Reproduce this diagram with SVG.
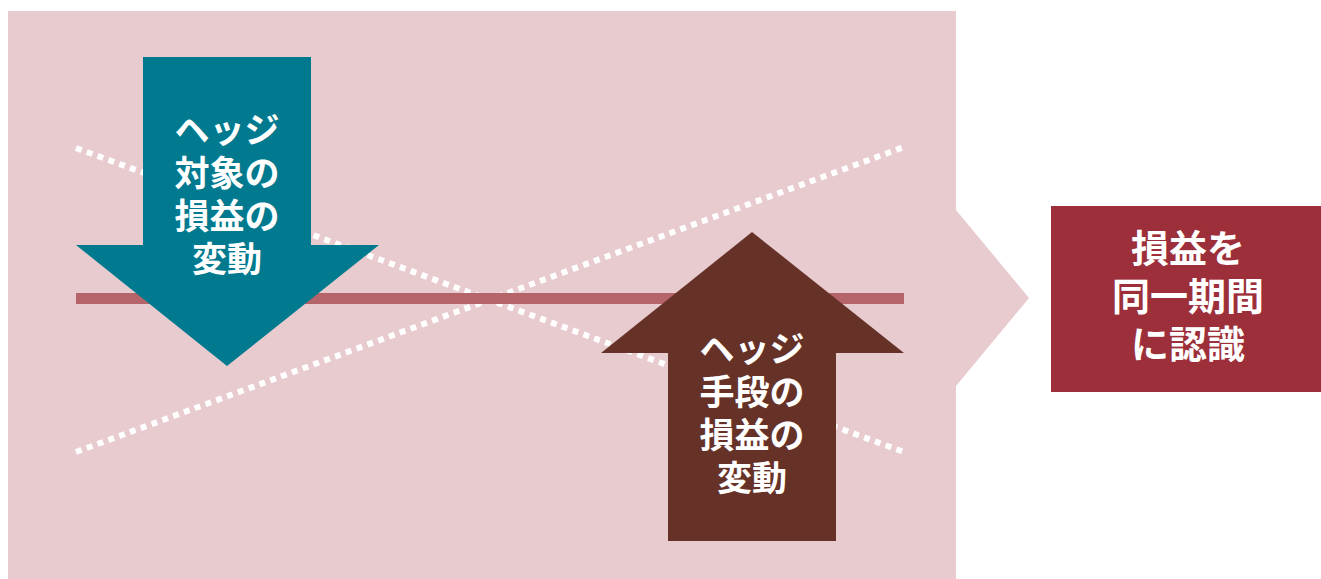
<svg xmlns="http://www.w3.org/2000/svg" width="1321" height="579" viewBox="0 0 1321 579">
<style>
.t{font-family:"Noto Sans CJK JP","Noto Sans CJK SC",sans-serif;font-weight:bold;fill:#fff;text-anchor:middle}
.a{font-size:35px}
.b{font-size:38px}
.dot{stroke:#fff;stroke-width:6;stroke-dasharray:6 5.5;fill:none}
</style>
<rect width="1321" height="579" fill="#fff"/>
<g id="background">
<polygon points="8,11 956,11 956,210 1029,298 956,386 956,579 8,579" fill="#E7CBCF"/>
</g>
<g id="connectors">
<line class="dot" x1="76" y1="148" x2="904" y2="452"/>
<line class="dot" x1="76" y1="452" x2="904" y2="147"/>
<rect x="76" y="293" width="828" height="11" fill="#B5646A"/>
</g>
<g id="hedged-item">
<polygon points="143,57 311,57 311,245 379,245 227,366 76,245 143,245" fill="#017A8F"/>
<text class="t a" x="227"><tspan x="227" y="143">ヘッジ</tspan><tspan x="227" y="186">対象の</tspan><tspan x="227" y="229">損益の</tspan><tspan x="227" y="272">変動</tspan></text>
</g>
<g id="hedging-instrument">
<polygon points="752,232 904,353 836,353 836,541 668,541 668,353 601,353" fill="#663228"/>
<text class="t a" x="752"><tspan x="752" y="362">ヘッジ</tspan><tspan x="752" y="405">手段の</tspan><tspan x="752" y="448">損益の</tspan><tspan x="752" y="491">変動</tspan></text>
</g>
<g id="result">
<rect x="1051" y="206" width="270" height="186" fill="#9C2F3A"/>
<text class="t b" x="1188"><tspan x="1188" y="262">損益を</tspan><tspan x="1188" y="310">同一期間</tspan><tspan x="1188" y="358">に認識</tspan></text>
</g>
</svg>
